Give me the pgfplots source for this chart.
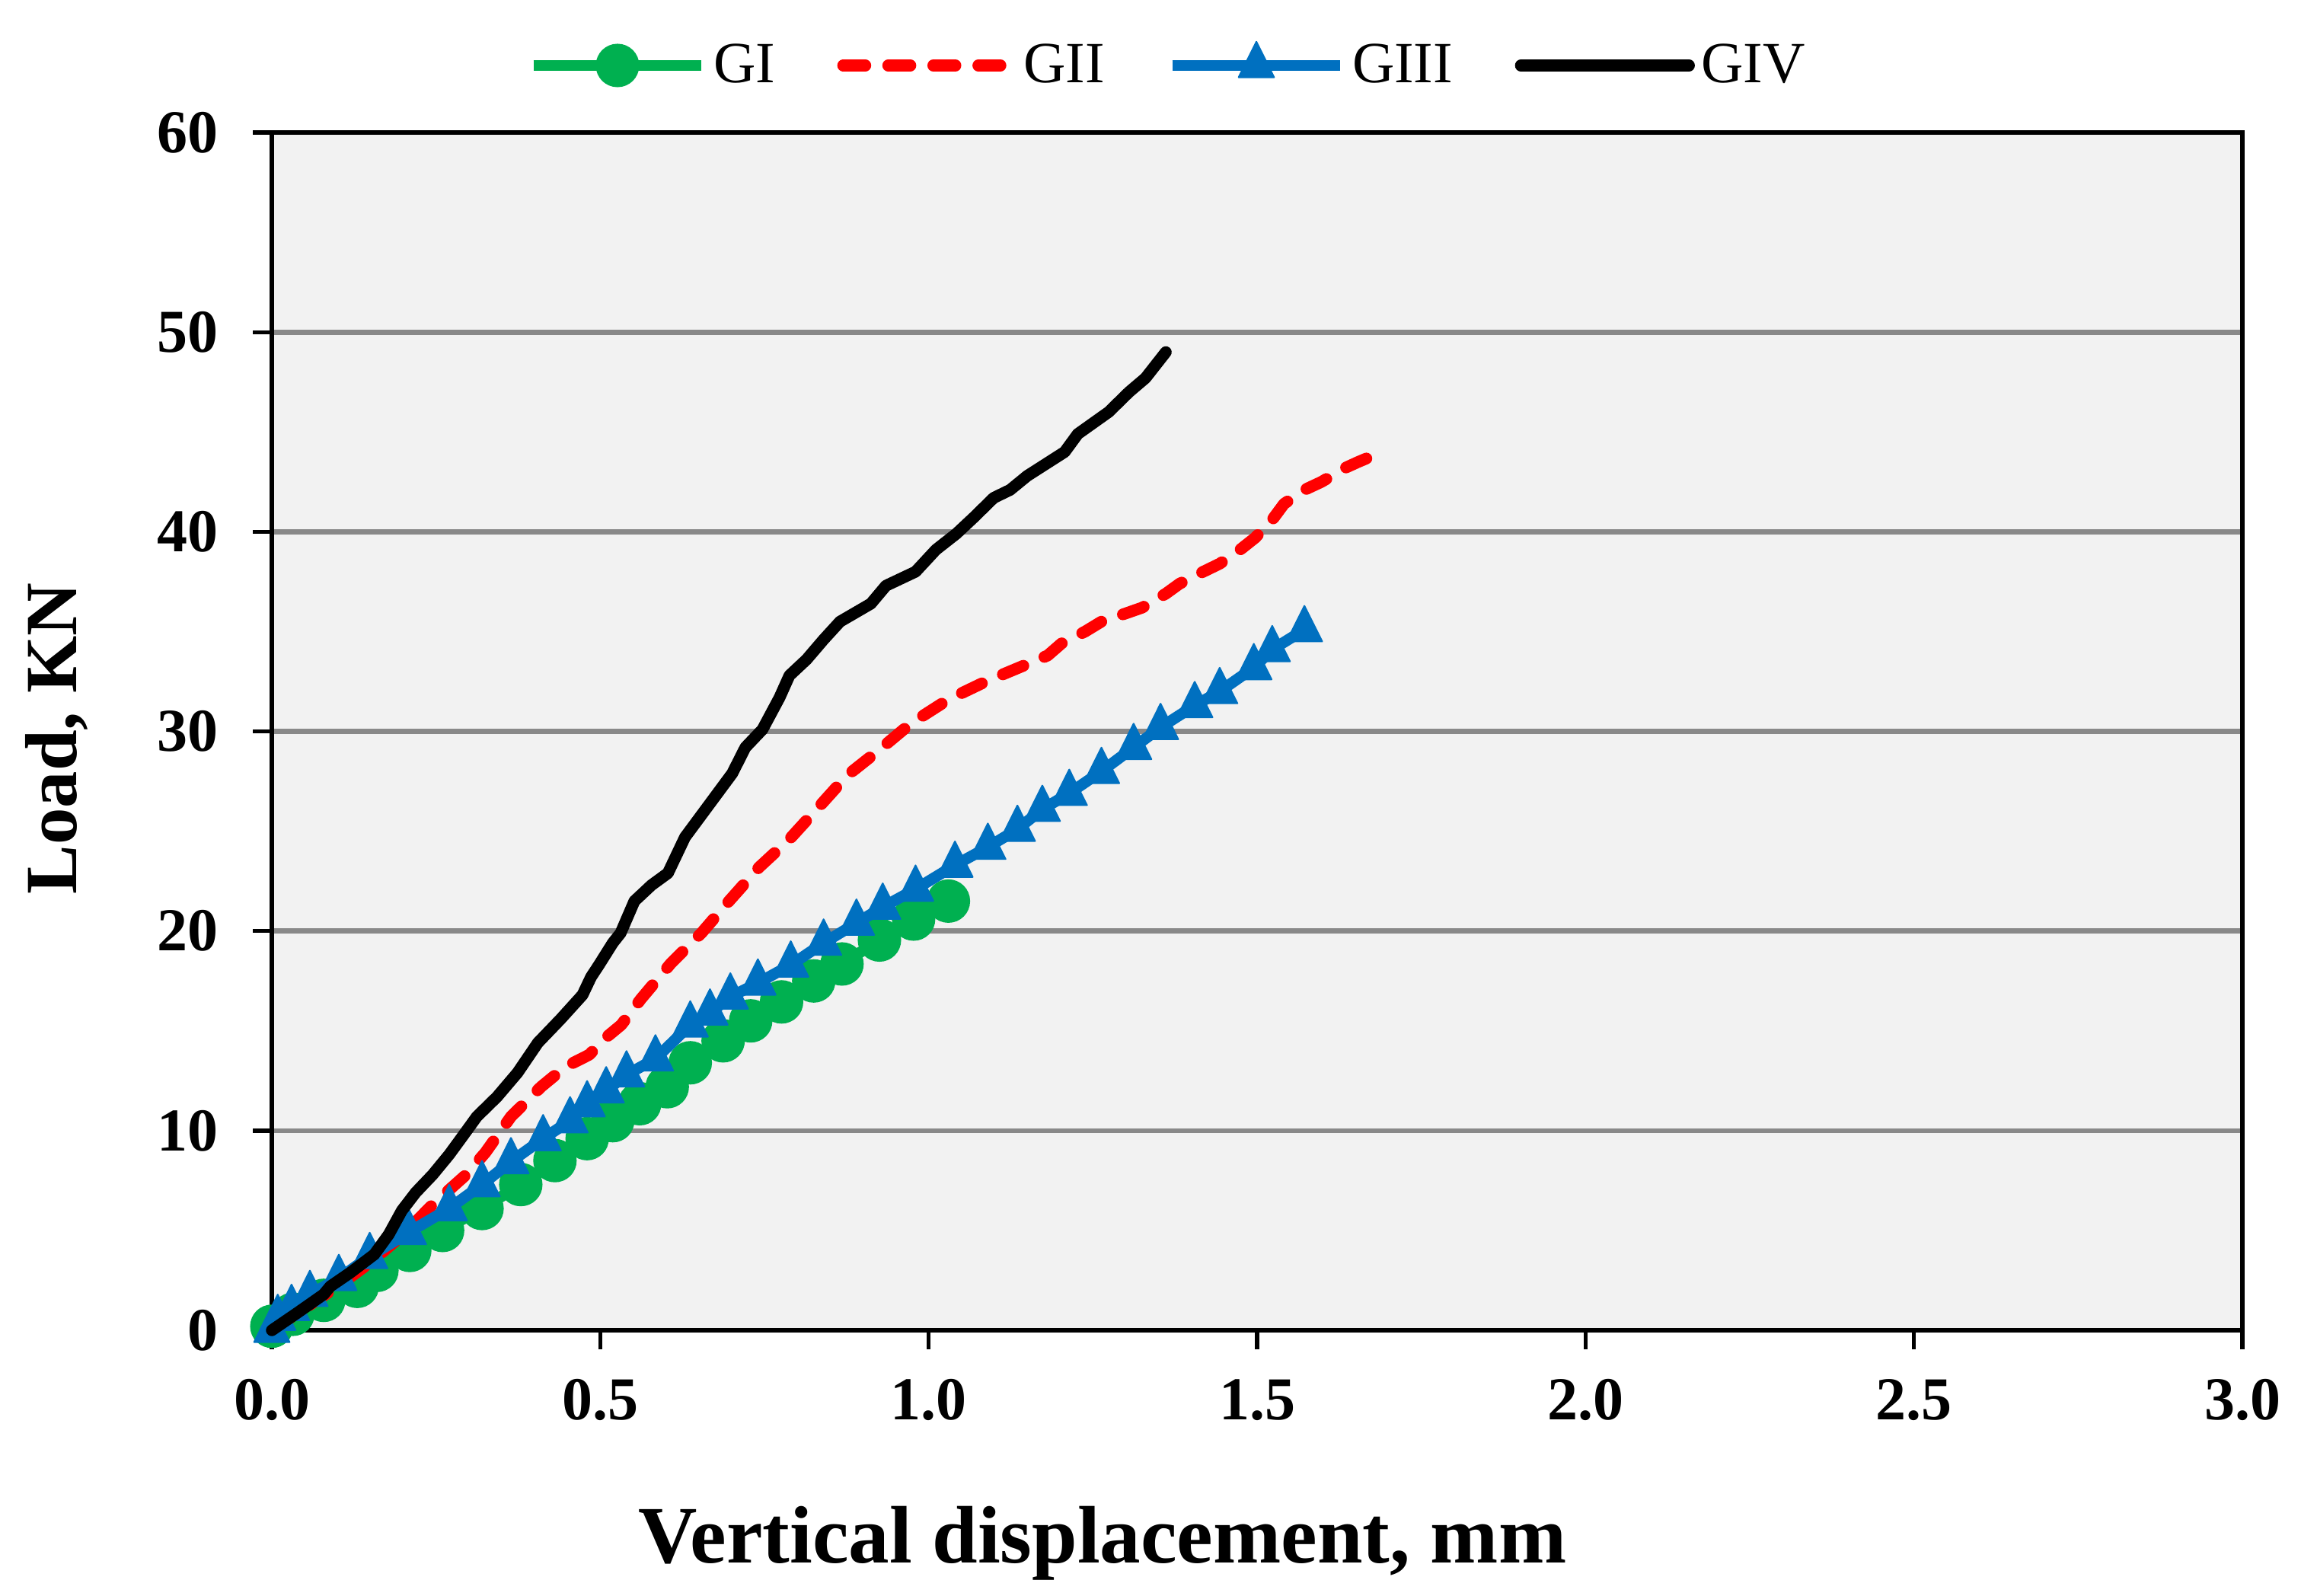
\documentclass[border=0pt]{standalone}
\usepackage{fontspec}
\setmainfont{Liberation Serif}
\usepackage{pgfplots}
\pgfplotsset{compat=1.18}
\definecolor{cG}{HTML}{00B050}
\definecolor{cR}{HTML}{FF0000}
\definecolor{cB}{HTML}{0070C0}
\definecolor{cBg}{HTML}{F2F2F2}
\definecolor{cGrid}{RGB}{137,137,137}
\begin{document}
\begin{tikzpicture}
\path[use as bounding box] (0,0) rectangle (730.3pt,502.8pt);
\begin{axis}[
  at={(85.68pt,83.52pt)}, anchor=south west,
  scale only axis, width=621.1pt, height=377.5pt,
  xmin=0, xmax=3, ymin=0, ymax=60,
  xtick={0,0.5,1,1.5,2,2.5,3},
  ytick={0,10,20,30,40,50,60},
  tick pos=left, tick align=outside,
  major tick length=6pt,
  every tick/.style={black, line width=1.3pt},
  axis line style={black, line width=1.5pt},
  axis background/.style={fill=cBg},
  ymajorgrids, grid style={cGrid, line width=1.6pt},
  clip=false, clip marker paths=true,
  tick label style={font=\bfseries\fontsize{19.2}{23}\selectfont},
  /pgf/number format/assume math mode=true,
  xticklabel style={yshift=-6pt, /pgf/number format/.cd, fixed, fixed zerofill, precision=1},
  yticklabel style={xshift=-7.5pt},
  xlabel={Vertical displacement, mm},
  ylabel={Load, KN},
  xlabel style={font=\bfseries\fontsize{25.7}{30}\selectfont, at={(axis description cs:0.4216,-0.1939)}, anchor=base},
  ylabel style={font=\bfseries\fontsize{23.2}{28}\selectfont, at={(axis description cs:-0.0993,0.494)}, anchor=base},
  legend columns=4,
  legend style={at={(axis description cs:0.4556,1.056)}, anchor=center, draw=none, fill=none,
    font=\fontsize{18.4}{22}\selectfont,
    /tikz/every even column/.append style={column sep=17.6pt}},
  legend image code/.code={\draw[mark repeat=2,mark phase=2] plot coordinates {(0pt,0pt) (26.5pt,0pt) (53pt,0pt)};},
]
\addplot[cG, line width=3.5pt, line join=round, mark=*, mark size=6.6pt, mark options={solid, fill=cG, draw=cG, line width=0.5pt}] coordinates {
(0,0.2) (0.032,0.8) (0.079,1.5) (0.13,2.2) (0.16,3.0) (0.21,4.0) (0.26,5.0) (0.32,6.1) (0.379,7.3) (0.431,8.5) (0.48,9.6) (0.519,10.5) (0.56,11.35) (0.602,12.2) (0.637,13.4) (0.687,14.5) (0.729,15.5) (0.776,16.45) (0.825,17.5) (0.868,18.35) (0.925,19.55) (0.977,20.6) (1.03,21.5)
};
\addlegendentry{GI}
\addplot[cR, line width=3.7pt, line cap=round, line join=round, dash pattern=on 7pt off 7.2pt] coordinates {
(0,0) (0.05,1.1) (0.1,2.2) (0.15,3.4) (0.2,4.8) (0.245,6.3) (0.296,7.8) (0.325,8.9) (0.364,10.7) (0.41,12.2) (0.447,13.2) (0.483,13.8) (0.51,14.7) (0.532,15.3) (0.562,16.6) (0.608,18.4) (0.654,19.9) (0.696,21.5) (0.742,23.2) (0.788,24.6) (0.835,26.3) (0.876,27.8) (0.922,29.0) (0.973,30.4) (1.03,31.6) (1.087,32.5) (1.145,33.3) (1.181,33.8) (1.202,34.4) (1.238,35.0) (1.263,35.5) (1.299,35.9) (1.325,36.2) (1.361,36.9) (1.382,37.4) (1.418,38.0) (1.443,38.4) (1.474,39.1) (1.497,39.7) (1.523,40.6) (1.541,41.4) (1.572,42.1) (1.598,42.5) (1.634,43.2) (1.654,43.5) (1.69,44.0)
};
\addlegendentry{GII}
\addplot[cB, line width=3.5pt, line join=round, mark=triangle*, mark size=6.8pt, mark options={solid, fill=cB, draw=cB, line width=0.5pt, xscale=0.95, yscale=1.1}] coordinates {
(0,0) (0.009,0.6) (0.03,1.1) (0.058,1.8) (0.102,2.6) (0.149,3.7) (0.208,4.9) (0.27,6.1) (0.32,7.3) (0.364,8.45) (0.413,9.6) (0.454,10.5) (0.48,11.3) (0.509,12.0) (0.54,12.8) (0.584,13.6) (0.637,15.3) (0.667,15.9) (0.698,16.7) (0.74,17.4) (0.79,18.3) (0.84,19.4) (0.89,20.4) (0.93,21.2) (0.98,22.1) (1.04,23.3) (1.09,24.2) (1.135,25.1) (1.173,26.1) (1.214,26.9) (1.263,28.0) (1.312,29.2) (1.353,30.2) (1.405,31.3) (1.443,32.0) (1.495,33.2) (1.523,34.1) (1.572,35.1)
};
\addlegendentry{GIII}
\addplot[black, line width=3.7pt, line join=round, line cap=round] coordinates {
(0,0) (0.04,0.9) (0.079,1.8) (0.089,2.2) (0.12,2.9) (0.156,3.8) (0.178,4.8) (0.198,6.0) (0.219,6.9) (0.245,7.8) (0.27,8.8) (0.29,9.7) (0.312,10.7) (0.343,11.7) (0.374,12.9) (0.405,14.4) (0.44,15.6) (0.473,16.8) (0.486,17.7) (0.498,18.3) (0.519,19.4) (0.531,19.9) (0.552,21.5) (0.578,22.3) (0.603,22.9) (0.629,24.7) (0.665,26.3) (0.701,27.9) (0.721,29.2) (0.747,30.1) (0.773,31.7) (0.788,32.8) (0.814,33.6) (0.84,34.6) (0.865,35.5) (0.912,36.4) (0.935,37.3) (0.98,38.0) (1.011,39.1) (1.042,39.9) (1.068,40.7) (1.099,41.7) (1.124,42.1) (1.15,42.8) (1.207,44.0) (1.227,44.9) (1.274,46.0) (1.305,47.0) (1.33,47.7) (1.361,49.0)
};
\addlegendentry{GIV}
\end{axis}
\end{tikzpicture}
\end{document}
